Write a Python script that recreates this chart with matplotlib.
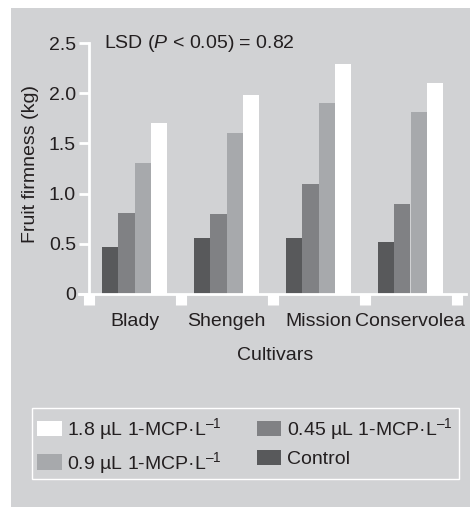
import matplotlib
matplotlib.use('Agg')
import matplotlib.pyplot as plt
import numpy as np
from matplotlib.patches import Rectangle, Patch

plt.rcParams['font.family'] = ['Liberation Sans', 'DejaVu Sans']
plt.rcParams['mathtext.fontset'] = 'custom'
plt.rcParams['mathtext.rm'] = 'Liberation Sans'
plt.rcParams['mathtext.it'] = 'Liberation Sans:italic'
plt.rcParams['font.size'] = 14

cultivars = ['Blady', 'Shengeh', 'Mission', 'Conservolea']
control = [0.47, 0.56, 0.56, 0.52]
mcp_045 = [0.81, 0.80, 1.10, 0.90]
mcp_09 = [1.30, 1.60, 1.90, 1.81]
mcp_18 = [1.70, 1.98, 2.29, 2.10]

series = [control, mcp_045, mcp_09, mcp_18]
labels = ['Control',
          r'0.45 µL 1-MCP·L$^{\mathregular{–1}}$',
          r'0.9 µL 1-MCP·L$^{\mathregular{–1}}$',
          r'1.8 µL 1-MCP·L$^{\mathregular{–1}}$']
colors = ['#58595b', '#808184', '#a7a9ac', '#ffffff']
bg = '#d1d2d4'

W, H = 470, 507
fig = plt.figure(figsize=(W / 100, H / 100), dpi=100, facecolor='white')
# grey panel behind everything
fig.patches.append(Rectangle((11 / W, 0), 1 - 11 / W, 1 - 8 / H, transform=fig.transFigure,
                             facecolor=bg, edgecolor='none', zorder=-5))

ax = fig.add_axes([88.5 / W, 213 / H, 92 * 4.1 / W, 251 / H])
ax.set_facecolor('none')

x = np.arange(len(cultivars))
w = 0.174
for i, (vals, c) in enumerate(zip(series, colors)):
    ax.bar(x + (i - 1.5) * w, vals, width=w, color=c, edgecolor='none', zorder=2)

ax.set_xlim(-0.5, 3.6)
ax.set_ylim(0, 2.5)
ax.set_yticks([0, 0.5, 1.0, 1.5, 2.0, 2.5])
ax.set_yticklabels(['0', '0.5', '1.0', '1.5', '2.0', '2.5'])
ax.set_xticks(x)
ax.set_xticklabels(cultivars)
ax.set_xticks(np.arange(-0.5, 4, 1), minor=True)

for s in ['top', 'right']:
    ax.spines[s].set_visible(False)
ax.spines['left'].set_color('white')
ax.spines['left'].set_linewidth(2)
ax.spines['bottom'].set_color('white')
ax.spines['bottom'].set_linewidth(2)
ax.spines['bottom'].set_bounds(-0.6, 3.6)

ax.tick_params(axis='y', colors='white', width=2, length=7, pad=2, labelcolor='#231f20')
ax.tick_params(axis='x', which='major', length=0, pad=14, labelcolor='#231f20')
ax.tick_params(axis='x', which='minor', colors='white', width=8, length=8)

ax.text(-0.33, 2.5, r'LSD ($\mathit{P}$ < 0.05) = 0.82', ha='left', va='center', color='#231f20')

fig.text(31 / W, 1 - 164 / H, 'Fruit firmness (kg)', rotation=90, ha='center', va='center',
         color='#231f20')
fig.text(275 / W, 1 - 355 / H, 'Cultivars', ha='center', va='center', color='#231f20')

# legend frame
fig.patches.append(Rectangle((32 / W, 1 - 479 / H), 427 / W, 71 / H, transform=fig.transFigure,
                             facecolor='none', edgecolor='white', linewidth=1, zorder=3))
order = [3, 2, 1, 0]
handles = [Patch(facecolor=colors[k], edgecolor='none') for k in order]
fig.legend(handles, [labels[k] for k in order], ncol=2, frameon=False,
           loc='center', bbox_to_anchor=(245 / W, 1 - 446 / H),
           handlelength=1.25, handleheight=0.85, handletextpad=0.3,
           columnspacing=1.8, labelspacing=0.4, labelcolor='#231f20')

fig.savefig('out.png', dpi=100, facecolor='white')
